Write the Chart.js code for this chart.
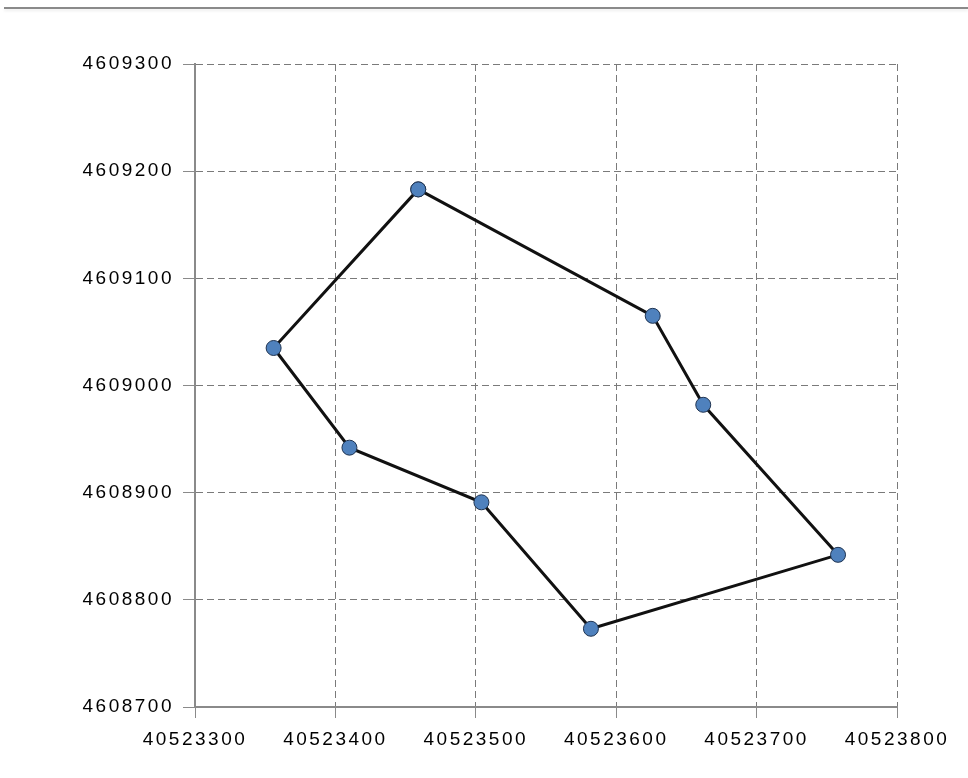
<!DOCTYPE html>
<html>
<head>
<meta charset="utf-8">
<script src="https://cdn.jsdelivr.net/npm/chart.js@4"></script>
<style>
  html, body { margin: 0; padding: 0; background: #fff; }
  #topRule { position: absolute; left: 4px; right: 0; top: 7px; height: 0; border-top: 2px solid #8a8a8a; box-shadow: 0 2px 3px rgba(0,0,0,0.08); }
  #wrap { position: absolute; left: 0; top: 0; width: 968px; height: 778px; }
</style>
</head>
<body>
<div id="topRule"></div>
<div id="wrap"><canvas id="polyChart"></canvas></div>
<script>
// polygon vertices (closed back to the first one)
const xValues = [40523459, 40523626, 40523662, 40523758, 40523582, 40523504, 40523410, 40523356, 40523459];
const yValues = [4609183, 4609065, 4608982, 4608842, 4608773, 4608891, 4608942, 4609035, 4609183];

const xMin = 40523300, xMax = 40523800;
const yMin = 4608700, yMax = 4609300;

const points = xValues.map((x, i) => ({ x, y: yValues[i] }));

const gridColor = '#7a7a7a';
const labelFont = { family: 'Liberation Sans', size: 19 };

// wider digit spacing like the original bitmap font
const spacingPlugin = {
  id: 'spacing',
  beforeUpdate: (chart) => { chart.ctx.letterSpacing = '2.5px'; },
  beforeDraw: (chart) => { chart.ctx.letterSpacing = '2.5px'; },
};

const ctx = document.getElementById('polyChart').getContext('2d');
new Chart(ctx, {
  type: 'scatter',
  data: {
    datasets: [
      {
        data: points,
        showLine: true,
        borderColor: '#111',
        borderWidth: 3,
        tension: 0,
        pointRadius: 7.5,
        pointBackgroundColor: '#4f81bd',
        pointBorderColor: '#1f3350',
        pointBorderWidth: 1,
      },
    ],
  },
  options: {
    responsive: true,
    maintainAspectRatio: false,
    animation: false,
    layout: { padding: { top: 64, right: 71, left: 0, bottom: 0 } },
    scales: {
      x: {
        type: 'linear',
        min: xMin,
        max: xMax,
        afterFit: (scale) => { scale.height = 71; },
        ticks: {
          stepSize: 100,
          color: '#000',
          font: labelFont,
          padding: 10,
          maxRotation: 0,
          callback: (value) => String(value),
        },
        grid: { color: gridColor, tickLength: 11, tickColor: '#8a8a8a' },
        border: { color: '#8a8a8a', width: 2, dash: [7, 4] },
      },
      y: {
        type: 'linear',
        min: yMin,
        max: yMax,
        afterFit: (scale) => { scale.width = 195; },
        ticks: {
          stepSize: 100,
          color: '#000',
          font: labelFont,
          padding: 9,
          callback: (value) => String(value),
        },
        grid: { color: gridColor, tickLength: 12, tickColor: '#8a8a8a' },
        border: { color: '#8a8a8a', width: 2, dash: [7, 4] },
      },
    },
    plugins: {
      legend: { display: false },
      tooltip: { enabled: false },
    },
  },
  plugins: [spacingPlugin],
});
</script>
</body>
</html>
